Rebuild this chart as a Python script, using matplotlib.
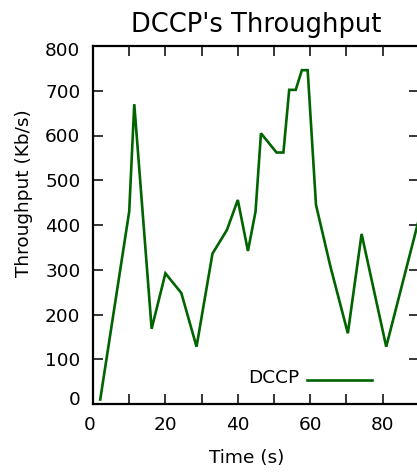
import matplotlib
matplotlib.use("Agg")
import matplotlib.pyplot as plt
import matplotlib.transforms as mtransforms
from matplotlib.legend_handler import HandlerLine2D

# Data
time_s = [2, 10, 11.4, 16.2, 20, 24.4, 28.6, 33, 37, 40, 42.8, 44.9, 46.4,
          50.7, 52.6, 54.2, 56, 57.7, 59.3, 61.6, 65.5, 70.4, 74.2, 81, 90]
throughput = [10, 430, 670, 168, 292, 248, 128, 336, 389, 456, 342, 430, 605,
              562, 562, 702, 702, 746, 746, 445, 310, 158, 380, 128, 412]
series_name = "DCCP"
title = "DCCP's Throughput"
xlabel = "Time (s)"
ylabel = "Throughput (Kb/s)"
xticks = [0, 10, 20, 30, 40, 50, 60, 70, 80, 90]
xticklabels = ["0", "", "20", "", "40", "", "60", "", "80", ""]
yticks = [0, 100, 200, 300, 400, 500, 600, 700, 800]

W, H = 417, 475
fig = plt.figure(figsize=(W / 100, H / 100), dpi=100)
left, right, bottom, top = 93, 418.8, 404, 46
ax = fig.add_axes([left / W, 1 - bottom / H, (right - left) / W, (bottom - top) / H])

ax.plot(time_s, throughput, color="#006400", lw=1.9, label=series_name,
        solid_joinstyle="miter")

ax.set_xlim(0, 90)
ax.set_ylim(0, 800)
ax.set_xticks(xticks)
ax.set_xticklabels(xticklabels)
ax.set_yticks(yticks)
ax.tick_params(direction="in", length=7, width=1.1, labelsize=13.3, pad=9,
               top=True, right=True, colors="black")
for s in ax.spines.values():
    s.set_linewidth(1.6)


def shift(label, dx_px, dy_px):
    off = mtransforms.ScaledTranslation(dx_px / 100, dy_px / 100, fig.dpi_scale_trans)
    label.set_transform(label.get_transform() + off)


ylabels = ax.get_yticklabels()
shift(ylabels[0], 0, 6)
shift(ylabels[-1], 0, -3)
shift(ax.get_xticklabels()[0], -3, 0)

ax.set_title(title, fontsize=18.5, pad=10)
ax.set_xlabel(xlabel, fontsize=13.3)
ax.set_ylabel(ylabel, fontsize=13.3)
ax.xaxis.set_label_coords((247 - left) / (right - left), -(449 - bottom) / (bottom - top))
ax.yaxis.set_label_coords(-(93 - 33) / (right - left), (bottom - 193) / (bottom - top))


class LowLine(HandlerLine2D):
    def create_artists(self, legend, orig_handle, xdescent, ydescent, width,
                       height, fontsize, trans):
        return super().create_artists(legend, orig_handle, xdescent,
                                      ydescent + 5.0, width, height, fontsize, trans)


leg = ax.legend(loc="center right", bbox_to_anchor=(372 / W, 1 - 378 / H),
                bbox_transform=fig.transFigure, frameon=False, markerfirst=False,
                fontsize=13.3, handlelength=3.5, handletextpad=0.45,
                borderpad=0, borderaxespad=0,
                handler_map={matplotlib.lines.Line2D: LowLine()})

fig.savefig("out.png", dpi=100)
